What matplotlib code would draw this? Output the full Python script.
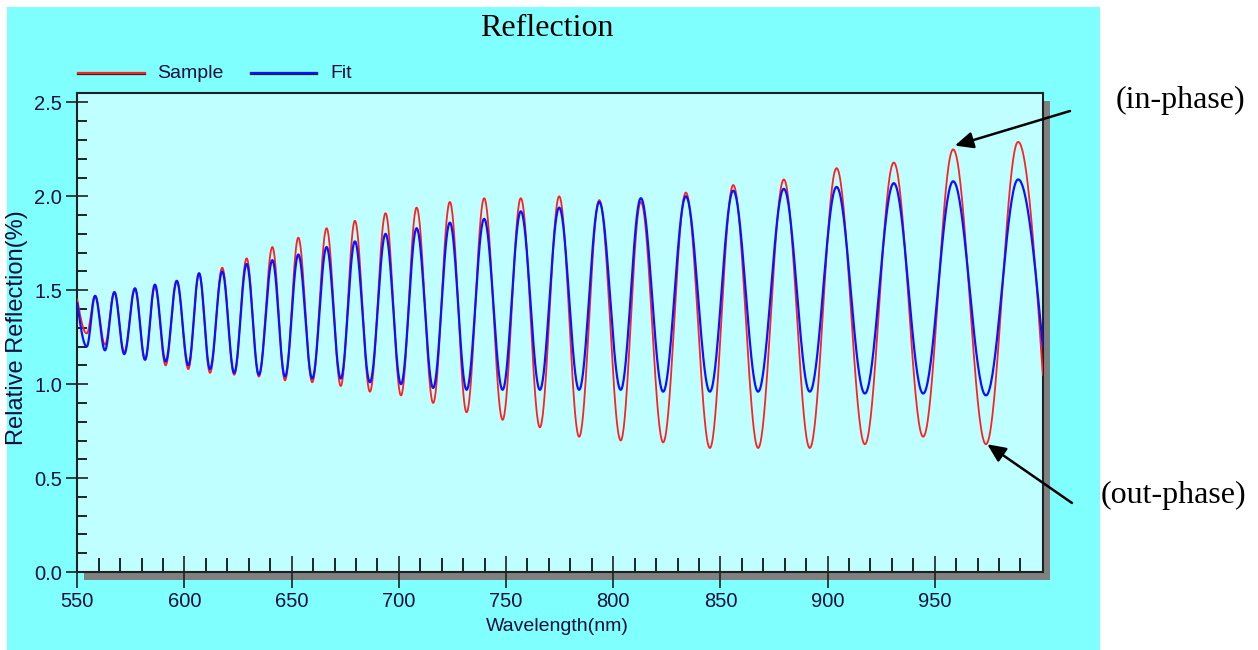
import numpy as np
import matplotlib
matplotlib.use("Agg")
import matplotlib.pyplot as plt
from matplotlib.patches import Rectangle
from matplotlib.lines import Line2D

# Fringe extrema (start, trough/peak pairs, end)
wavelength = [550.0, 554.4, 558.3, 562.9, 567.3, 571.9, 576.9, 581.6, 586.2, 591.2,
              596.4, 601.8, 606.8, 611.9, 617.6, 623.2, 629.0, 634.7, 641.0, 646.9,
              653.1, 659.6, 666.3, 672.9, 679.5, 686.5, 693.8, 701.0, 708.3, 716.0,
              723.8, 731.6, 739.8, 748.4, 756.9, 765.8, 774.8, 784.1, 793.5, 803.5,
              812.9, 823.3, 833.9, 845.1, 856.0, 867.6, 879.6, 891.7, 904.2, 917.4,
              930.9, 944.6, 958.6, 973.9, 988.9, 1000.4]
sample = [1.45, 1.27, 1.47, 1.21, 1.49, 1.17, 1.51, 1.13, 1.52, 1.10, 1.55, 1.08, 1.59,
          1.06, 1.62, 1.05, 1.67, 1.04, 1.73, 1.02, 1.78, 1.01, 1.83, 0.99, 1.87, 0.96,
          1.91, 0.94, 1.94, 0.90, 1.97, 0.85, 1.99, 0.81, 1.99, 0.77, 2.00, 0.72, 1.98,
          0.70, 1.97, 0.69, 2.02, 0.66, 2.06, 0.66, 2.09, 0.66, 2.15, 0.68, 2.18, 0.72,
          2.25, 0.68, 2.29, 1.05]
fit = [1.43, 1.20, 1.47, 1.18, 1.49, 1.16, 1.51, 1.13, 1.53, 1.12, 1.55, 1.10, 1.59,
       1.08, 1.60, 1.06, 1.64, 1.05, 1.66, 1.04, 1.69, 1.03, 1.73, 1.03, 1.76, 1.01,
       1.80, 1.00, 1.83, 0.98, 1.86, 0.97, 1.88, 0.97, 1.92, 0.97, 1.94, 0.97, 1.97,
       0.97, 1.99, 0.96, 2.00, 0.96, 2.03, 0.96, 2.04, 0.96, 2.05, 0.95, 2.07, 0.95,
       2.08, 0.94, 2.09, 1.20]

x_major = [550, 600, 650, 700, 750, 800, 850, 900, 950]
y_major = [0.0, 0.5, 1.0, 1.5, 2.0, 2.5]


def fringe(xp, yp, n=40):
    # smooth the extrema with half-cosine segments (zero slope at each extremum)
    xs, ys = [], []
    last = len(xp) - 2
    for i in range(len(xp) - 1):
        t = np.linspace(0, 1, n, endpoint=False)
        if i == 0:
            s = np.sin(np.pi / 2 * t)
        elif i == last:
            t = np.linspace(0, 1, n)
            s = 1 - np.cos(np.pi / 2 * t)
        else:
            s = (1 - np.cos(np.pi * t)) / 2
        xs.append(xp[i] + (xp[i + 1] - xp[i]) * t)
        ys.append(yp[i] + (yp[i + 1] - yp[i]) * s)
    return np.concatenate(xs), np.concatenate(ys)


W, H = 1258, 650


def px(x, y):
    return x / W, 1 - y / H


fig = plt.figure(figsize=(W / 100, H / 100), dpi=100)
fig.patch.set_facecolor("white")

# cyan panel and plot shadow
fig.patches.append(Rectangle(px(7, 650), 1093 / W, 643 / H, transform=fig.transFigure,
                             facecolor="#80FFFF", edgecolor="none", zorder=-3))
fig.patches.append(Rectangle(px(84, 580), 966 / W, 479 / H, transform=fig.transFigure,
                             facecolor="#808080", edgecolor="none", zorder=-2))

ax = fig.add_axes([77.3 / W, 1 - 572 / H, 965.7 / W, 479 / H])
ax.set_facecolor("#C0FFFF")

xs, ys = fringe(wavelength, sample)
ax.plot(xs, ys, color="#FF2020", lw=1.3, zorder=3)
xf, yf = fringe(wavelength, fit)
ax.plot(xf, yf, color="#1010FF", lw=1.6, zorder=4)

ax.set_xlim(550, 1000.5)
ax.set_ylim(0, 2.55)
ax.set_xticks(x_major)
ax.set_xticks(np.arange(560, 1000, 10), minor=True)
ax.set_yticks(y_major)
ax.set_yticks(np.arange(0.1, 2.55, 0.1), minor=True)
ax.set_yticklabels([f"{v:.1f}" for v in y_major])

for s in ax.spines.values():
    s.set_linewidth(1.5)
    s.set_color("#202020")
ax.tick_params(axis="x", which="major", direction="inout", length=23, width=1.2, pad=3,
               labelsize=14.5, colors="#202020", labelcolor="#101040")
ax.tick_params(axis="x", which="minor", direction="in", length=10, width=1.2)
ax.tick_params(axis="y", which="major", direction="inout", length=15.5, width=1.2, pad=3,
               labelsize=14.5, colors="#202020", labelcolor="#101040")
ax.tick_params(axis="y", which="minor", direction="in", length=7.2, width=1.2)
for lab in ax.get_xticklabels() + ax.get_yticklabels():
    lab.set_fontfamily("Liberation Sans")

ax.set_xlabel("Wavelength(nm)", fontsize=14, family="Liberation Sans", color="#101040")
ax.xaxis.set_label_coords(0.497, -0.095)
ax.set_ylabel("Relative Reflection(%)", fontsize=17, family="Liberation Sans",
              color="#101040")
ax.yaxis.set_label_coords(-0.051, 0.51)

fig.text(*px(547, 28), "Reflection", ha="center", va="center", fontsize=23,
         family="Liberation Serif")

# legend strip above plot
for x0, x1, c, label, tx in [(78, 145, "#FF2020", "Sample", 157),
                             (251, 317, "#1010FF", "Fit", 330)]:
    fig.add_artist(Line2D([x0 / W, x1 / W], [1 - 74 / H] * 2, transform=fig.transFigure,
                          color="#202020", lw=1.6))
    fig.add_artist(Line2D([x0 / W, x1 / W], [1 - 72.6 / H] * 2, transform=fig.transFigure,
                          color=c, lw=1.6))
    fig.text(*px(tx, 73), label, ha="left", va="center", fontsize=14,
             family="Liberation Sans", color="#101040")

# annotations
arrow = dict(arrowstyle="-|>,head_length=1.1,head_width=0.5", color="black", lw=1.8,
             shrinkA=0, shrinkB=0)
ax.annotate("", xy=(959.4, 2.27), xytext=px(1070, 111), textcoords="figure fraction",
            arrowprops=arrow, annotation_clip=False)
ax.annotate("", xy=(974.5, 0.68), xytext=px(1072, 503), textcoords="figure fraction",
            arrowprops=arrow, annotation_clip=False)
fig.text(*px(1180, 100), "(in-phase)", ha="center", va="center", fontsize=23,
         family="Liberation Serif")
fig.text(*px(1173, 495), "(out-phase)", ha="center", va="center", fontsize=23,
         family="Liberation Serif")

fig.savefig("out.png", dpi=100)
